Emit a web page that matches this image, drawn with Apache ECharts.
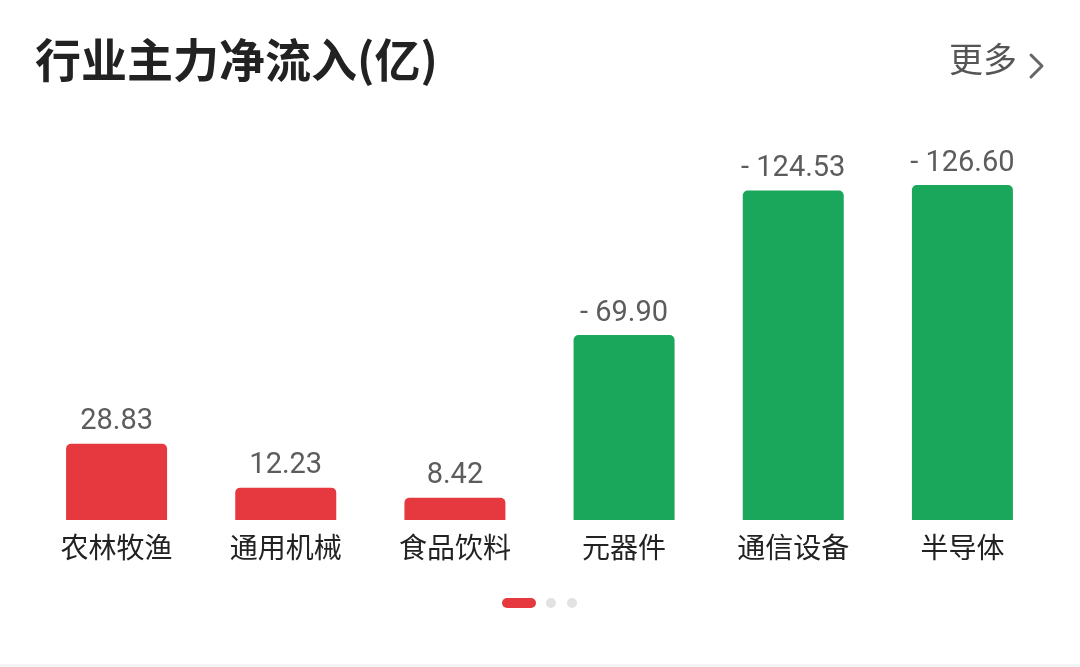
<!DOCTYPE html>
<html>
<head>
<meta charset="utf-8">
<script src="https://cdn.jsdelivr.net/npm/echarts@6/dist/echarts.min.js"></script>
<style>
html,body{margin:0;padding:0;background:#fff;}
#main{width:1080px;height:667px;}
</style>
</head>
<body>
<div id="main"></div>
<script>
var titleText = '行业主力净流入(亿)';
var moreText = '更多';
var categories = ['农林牧渔', '通用机械', '食品饮料', '元器件', '通信设备', '半导体'];
var netInflow = [28.83, 12.23, 8.42, -69.90, -124.53, -126.60];

var RED = '#E5383F';
var GREEN = '#1BA75B';

var chart = echarts.init(document.getElementById('main'));
var barData = netInflow.map(function (v) {
  return {
    value: Math.abs(v),
    raw: v,
    itemStyle: { color: v >= 0 ? RED : GREEN }
  };
});

chart.setOption({
  backgroundColor: '#ffffff',
  animation: false,
  grid: { left: 32, right: 33, top: 185, bottom: 147 },
  xAxis: {
    type: 'category',
    data: categories,
    axisLine: { show: false },
    axisTick: { show: false },
    axisLabel: {
      color: '#222',
      fontSize: 28,
      margin: 13,
      fontFamily: 'Noto Sans CJK SC'
    }
  },
  yAxis: {
    type: 'value',
    min: 0,
    max: function (e) { return e.max; },
    show: false,
    splitLine: { show: false }
  },
  series: [{
    type: 'bar',
    data: barData,
    barWidth: 101,
    itemStyle: { borderRadius: [5, 5, 0, 0] },
    label: {
      show: true,
      position: 'top',
      distance: 7,
      color: '#5c5c5c',
      fontSize: 29,
      fontFamily: 'Roboto',
      formatter: function (p) {
        var v = p.data.raw;
        return v < 0 ? '- ' + Math.abs(v).toFixed(2) : v.toFixed(2);
      }
    }
  }],
  graphic: [
    {
      type: 'text', left: 35, top: 37,
      style: { text: titleText, fontSize: 46, fontWeight: 'bold', fill: '#222', fontFamily: 'Noto Sans CJK SC' }
    },
    {
      type: 'text', left: 949, top: 42,
      style: { text: moreText, fontSize: 34, fill: '#555', fontFamily: 'Noto Sans CJK SC' }
    },
    {
      type: 'polyline',
      shape: { points: [[1031, 55], [1042, 66], [1031, 77]] },
      style: { stroke: '#666', lineWidth: 3, fill: null, lineCap: 'round', lineJoin: 'round' }
    },
    {
      type: 'rect',
      shape: { x: 502, y: 598, width: 34, height: 10, r: 5 },
      style: { fill: RED }
    },
    {
      type: 'circle',
      shape: { cx: 551, cy: 603, r: 5 },
      style: { fill: '#e2e2e2' }
    },
    {
      type: 'circle',
      shape: { cx: 572, cy: 603, r: 5 },
      style: { fill: '#e2e2e2' }
    },
    {
      type: 'rect',
      shape: { x: 0, y: 664, width: 1080, height: 3 },
      style: { fill: '#f4f4f4' }
    }
  ]
});
</script>
</body>
</html>
